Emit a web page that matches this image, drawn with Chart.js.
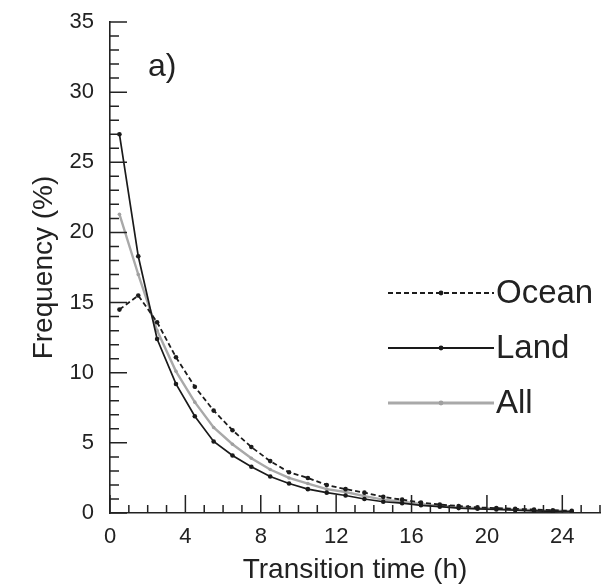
<!DOCTYPE html>
<html>
<head>
<meta charset="utf-8">
<script src="https://cdn.jsdelivr.net/npm/chart.js@4"></script>
<style>
  body { margin: 0; background: #fff; }
  canvas { display: block; }
</style>
</head>
<body>
<canvas id="grafica" width="608" height="585"></canvas>
<script>
// horas de transicion (centro de cada intervalo)
var horas = [0.5, 1.5, 2.5, 3.5, 4.5, 5.5, 6.5, 7.5, 8.5, 9.5, 10.5, 11.5, 12.5,
  13.5, 14.5, 15.5, 16.5, 17.5, 18.5, 19.5, 20.5, 21.5, 22.5, 23.5, 24.5];

var oceano = [14.5, 15.5, 13.6, 11.1, 9.0, 7.3, 5.9, 4.7, 3.7, 2.9, 2.5, 2.0, 1.7,
  1.45, 1.15, 0.95, 0.75, 0.6, 0.5, 0.4, 0.35, 0.3, 0.25, 0.2, 0.15];
var tierra = [27.0, 18.3, 12.4, 9.2, 6.9, 5.1, 4.1, 3.3, 2.6, 2.1, 1.7, 1.45, 1.25,
  1.0, 0.8, 0.7, 0.55, 0.45, 0.35, 0.3, 0.25, 0.2, 0.15, 0.12, 0.1];
var todo = [21.3, 17.0, 13.0, 10.1, 7.9, 6.1, 4.9, 3.9, 3.1, 2.5, 2.1, 1.7, 1.5,
  1.2, 0.95, 0.8, 0.65, 0.5, 0.42, 0.35, 0.3, 0.25, 0.2, 0.16, 0.12];

var etiquetas = ["Ocean", "Land", "All"];
var ticksX = [0, 4, 8, 12, 16, 20, 24];
var ticksY = [0, 5, 10, 15, 20, 25, 30, 35];

var fuente = "'Liberation Sans', Arial, sans-serif";
var tinta = "#222";

function puntos(valores) {
  return horas.map((h, i) => ({ x: h, y: valores[i] }));
}

// marcas hacia adentro (mayores y menores) + leyenda + "a)"
const decorado = {
  id: "decorado",
  afterDraw(chart) {
    const ctx = chart.ctx;
    const sx = chart.scales.x;
    const sy = chart.scales.y;
    const area = chart.chartArea;
    ctx.save();
    ctx.strokeStyle = tinta;
    ctx.lineWidth = 1.5;
    ctx.beginPath();
    for (let v = 0; v <= 26; v++) {
      const px = sx.getPixelForValue(v);
      const largo = ticksX.includes(v) ? 18 : 8;
      ctx.moveTo(px, area.bottom);
      ctx.lineTo(px, area.bottom - largo);
    }
    for (let v = 0; v <= 35; v++) {
      const py = sy.getPixelForValue(v);
      const largo = ticksY.includes(v) ? 17 : 9;
      ctx.moveTo(area.left, py);
      ctx.lineTo(area.left + largo, py);
    }
    ctx.stroke();

    // leyenda
    const sets = chart.data.datasets;
    const filas = [293, 348, 403];
    ctx.font = "33px " + fuente;
    ctx.textBaseline = "middle";
    ctx.textAlign = "left";
    sets.forEach((ds, i) => {
      const y = filas[i];
      ctx.strokeStyle = ds.borderColor;
      ctx.lineWidth = ds.borderWidth + 0.4;
      ctx.setLineDash(ds.borderDash || []);
      ctx.beginPath();
      ctx.moveTo(388, y);
      ctx.lineTo(494, y);
      ctx.stroke();
      ctx.setLineDash([]);
      ctx.fillStyle = ds.pointBackgroundColor;
      ctx.beginPath();
      ctx.arc(441, y, 2.4, 0, Math.PI * 2);
      ctx.fill();
      ctx.fillStyle = tinta;
      ctx.fillText(etiquetas[i], 496, y + 1);
    });

    ctx.font = "32px " + fuente;
    ctx.textBaseline = "alphabetic";
    ctx.fillStyle = tinta;
    ctx.fillText("a)", 148, 76);
    ctx.restore();
  },
};

const graficaFrecuencia = document.querySelector("#grafica").getContext("2d");
new Chart(graficaFrecuencia, {
  type: "line",
  data: {
    datasets: [
      {
        label: etiquetas[0],
        data: puntos(oceano),
        borderColor: "#1c1c1c",
        borderWidth: 1.8,
        borderDash: [5, 3],
        pointRadius: 2.3,
        pointBackgroundColor: "#1c1c1c",
        pointBorderWidth: 0,
      },
      {
        label: etiquetas[1],
        data: puntos(tierra),
        borderColor: "#1a1a1a",
        borderWidth: 1.7,
        pointRadius: 2.3,
        pointBackgroundColor: "#1a1a1a",
        pointBorderWidth: 0,
      },
      {
        label: etiquetas[2],
        data: puntos(todo),
        borderColor: "#a9a9a9",
        borderWidth: 2.4,
        pointRadius: 1.8,
        pointBackgroundColor: "#a0a0a0",
        pointBorderWidth: 0,
      },
    ],
  },
  options: {
    responsive: false,
    animation: false,
    layout: { padding: { top: 22, right: 8, left: 0, bottom: 0 } },
    plugins: {
      legend: { display: false },
      tooltip: { enabled: false },
    },
    scales: {
      x: {
        type: "linear",
        min: 0,
        max: 26,
        afterFit: (s) => {
          s.height = 72;
          s.paddingLeft = 0;
          s.paddingRight = 0;
        },
        grid: { display: false, drawTicks: false },
        border: { display: true, color: tinta, width: 1.6 },
        ticks: {
          stepSize: 4,
          includeBounds: false,
          padding: 11,
          color: tinta,
          maxRotation: 0,
          font: { family: fuente, size: 22 },
        },
        title: {
          display: true,
          text: "Transition time (h)",
          color: tinta,
          font: { family: fuente, size: 28, lineHeight: 1 },
          padding: { top: 0, bottom: 1 },
        },
      },
      y: {
        min: 0,
        max: 35,
        afterFit: (s) => {
          s.width = 110;
          s.paddingTop = 0;
          s.paddingBottom = 0;
        },
        grid: { display: false, drawTicks: false },
        border: { display: true, color: tinta, width: 1.6 },
        ticks: {
          stepSize: 5,
          padding: 16,
          color: tinta,
          font: { family: fuente, size: 22 },
        },
        title: {
          display: true,
          text: "Frequency (%)",
          color: tinta,
          font: { family: fuente, size: 28, lineHeight: 1.2 },
          padding: { top: 27, bottom: 0 },
        },
      },
    },
  },
  plugins: [decorado],
});
</script>
</body>
</html>
